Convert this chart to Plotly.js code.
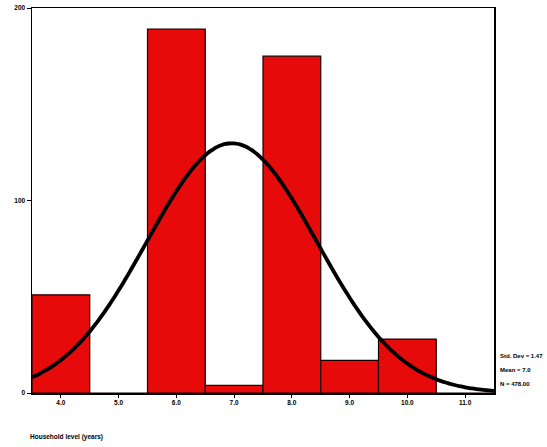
<!DOCTYPE html>
<html>
<head>
<meta charset="utf-8">
<script src="https://cdn.plot.ly/plotly-3.0.1.min.js"></script>
<style>html,body{margin:0;padding:0;background:#fff;}#chart{width:547px;height:447px;}</style>
</head>
<body>
<div id="chart"></div>
<script>
// Bin centres and counts
var binCenters = [4, 5, 6, 7, 8, 9, 10, 11];
var tickLabels = ["4.0", "5.0", "6.0", "7.0", "8.0", "9.0", "10.0", "11.0"];
var counts = [51, 0, 189, 4, 175, 17, 28, 0];
// Summary statistics shown at the right of the chart
var statMean = 6.96;
var statSd = 1.47;
var statN = 478;
var statLabels = ["Std. Dev = 1.47", "Mean = 7.0", "N = 478.00"];
var xTitle = "Household level (years)";
var yTicks = [0, 100, 200];

// Normal curve defined by the statistics above (bin width 1)
var curveX = [], curveY = [];
for (var i = 0; i <= 160; i++) {
  var x = 3.5 + i * 0.05;
  var z = (x - statMean) / statSd;
  curveX.push(x);
  curveY.push(statN / (statSd * Math.sqrt(2 * Math.PI)) * Math.exp(-0.5 * z * z));
}

var bars = {
  type: 'bar', x: binCenters, y: counts, width: 1,
  marker: {color: '#e60a0a', line: {color: '#1a0000', width: 1.2}},
  hoverinfo: 'none'
};
var curve = {
  type: 'scatter', mode: 'lines', x: curveX, y: curveY,
  line: {color: '#000', width: 3.8, shape: 'spline'}, hoverinfo: 'none'
};

var tickFont = {family: 'Liberation Sans, Arial, sans-serif', size: 6.5, color: '#000', weight: 'bold'};
var ann = [];
var statY = [0.096, 0.060, 0.023];
for (var k = 0; k < statLabels.length; k++) {
  ann.push({xref: 'paper', yref: 'paper', x: 1.008, y: statY[k], xanchor: 'left', yanchor: 'middle',
    text: '<b>' + statLabels[k] + '</b>', showarrow: false, font: {family: 'Liberation Sans, Arial, sans-serif', size: 6, color: '#000'}});
}
ann.push({xref: 'paper', yref: 'paper', x: -0.009, y: -0.114, xanchor: 'left', yanchor: 'middle',
  text: '<b>' + xTitle + '</b>', showarrow: false, font: {family: 'Liberation Sans, Arial, sans-serif', size: 6.5, color: '#000'}});

var layout = {
  width: 547, height: 447,
  margin: {l: 32, r: 53, t: 8, b: 54},
  paper_bgcolor: '#fff', plot_bgcolor: '#fff',
  showlegend: false, bargap: 0,
  xaxis: {range: [3.5, 11.5], tickvals: binCenters, ticktext: tickLabels,
    showline: true, linecolor: '#000', linewidth: 1.5, mirror: true,
    ticks: 'outside', ticklen: 3, tickcolor: '#000', showgrid: false, zeroline: false,
    tickfont: tickFont, fixedrange: true},
  yaxis: {range: [0, 200], tickvals: yTicks, ticktext: yTicks.map(String),
    showline: true, linecolor: '#000', linewidth: 1.5, mirror: true,
    ticks: 'outside', ticklen: 4, tickcolor: '#000', showgrid: false, zeroline: false,
    tickfont: tickFont, fixedrange: true},
  annotations: ann
};
Plotly.newPlot('chart', [bars, curve], layout, {displayModeBar: false, staticPlot: true});
</script>
</body>
</html>
